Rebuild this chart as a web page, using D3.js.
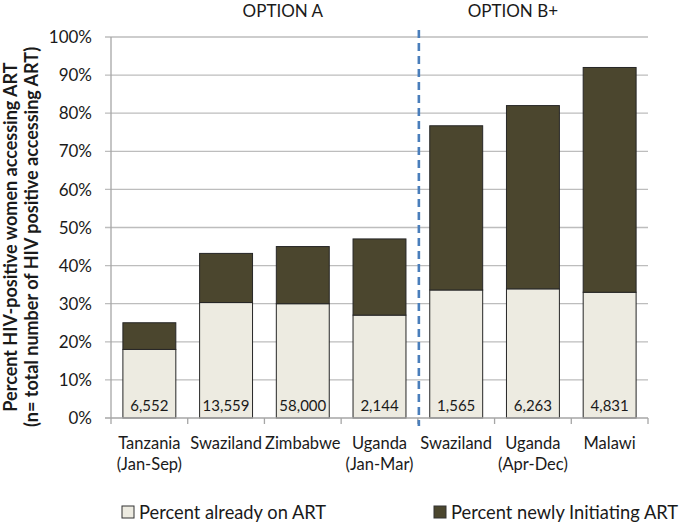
<!DOCTYPE html>
<html><head><meta charset="utf-8">
<script src="https://cdn.jsdelivr.net/npm/d3@7"></script>
<style>body{margin:0;background:#fff}svg{display:block}text{font-family:Lato,"Open Sans",sans-serif;fill:#1a1a1a}</style>
</head><body><svg id="c" width="681" height="522"></svg>
<script>
const categories = [["Tanzania","(Jan-Sep)"],["Swaziland"],["Zimbabwe"],["Uganda","(Jan-Mar)"],["Swaziland"],["Uganda","(Apr-Dec)"],["Malawi"]];
const alreadyOnART = [18, 30.3, 30, 27, 33.6, 33.9, 33];
const totalAccessing = [25, 43.2, 45, 47, 76.7, 82, 92];
const nLabels = ["6,552","13,559","58,000","2,144","1,565","6,263","4,831"];
const yTicks = [0,10,20,30,40,50,60,70,80,90,100];
const groups = [{name:"OPTION A", from:0, to:3},{name:"OPTION B+", from:4, to:6}];
const legendLabels = ["Percent already on ART","Percent newly Initiating ART"];
const colors = ["#edebe1","#4b462e"];

const svg = d3.select("#c");
const L=111, R=648, T=37, B=418;
const idx = categories.map((d,i)=>i);
const x = d3.scaleBand().domain(idx).range([L,R]).paddingInner(0.31).paddingOuter(0.155);
const y = d3.scaleLinear().domain([0,100]).range([B,T]);

// gridlines + y ticks
svg.append("g").selectAll("line").data(yTicks.filter(d=>d>0)).join("line")
  .attr("x1",L-6).attr("x2",R).attr("y1",d=>y(d)).attr("y2",d=>y(d))
  .attr("stroke","#bdbdbd").attr("stroke-width",1.3);
svg.append("g").selectAll("text").data(yTicks).join("text")
  .attr("x",L-19).attr("y",d=>y(d)).attr("dy","0.36em").attr("text-anchor","end")
  .attr("font-size",17).text(d=>d+"%");
svg.append("line").attr("x1",L).attr("x2",L).attr("y1",T).attr("y2",B).attr("stroke","#a6a6a6").attr("stroke-width",1.3);

// stacks
const stackData = idx.map(i=>({i, a:alreadyOnART[i], b:totalAccessing[i]-alreadyOnART[i]}));
const series = d3.stack().keys(["a","b"])(stackData);
svg.append("g").selectAll("g").data(series).join("g").attr("fill",(d,k)=>colors[k])
  .selectAll("rect").data(d=>d).join("rect")
  .attr("x",d=>x(d.data.i)).attr("width",x.bandwidth())
  .attr("y",d=>y(d[1])).attr("height",d=>y(d[0])-y(d[1]))
  .attr("stroke","#262626").attr("stroke-width",1);

// n labels
svg.append("g").selectAll("text").data(nLabels).join("text")
  .attr("x",(d,i)=>x(i)+x.bandwidth()/2).attr("y",406).attr("dy","0.36em")
  .attr("text-anchor","middle").attr("font-size",15).text(d=>d);

// x axis
svg.append("line").attr("x1",L-6).attr("x2",R).attr("y1",B).attr("y2",B).attr("stroke","#a6a6a6").attr("stroke-width",1.3);
const step = x.step();
svg.append("g").selectAll("line").data(d3.range(categories.length+1)).join("line")
  .attr("x1",d=>L+d*step).attr("x2",d=>L+d*step).attr("y1",B).attr("y2",B+6)
  .attr("stroke","#a6a6a6").attr("stroke-width",1.3);
const cl = svg.append("g").selectAll("text").data(categories).join("text")
  .attr("x",(d,i)=>x(i)+x.bandwidth()/2).attr("y",443).attr("text-anchor","middle").attr("font-size",16.5);
cl.selectAll("tspan").data(d=>d).join("tspan")
  .attr("x",function(){return this.parentNode.getAttribute("x");})
  .attr("dy",(d,j)=>j===0?"0.36em":"1.3em").text(d=>d);

// dashed separator
const sepX = L + 4*step;
svg.append("line").attr("x1",sepX+1).attr("x2",sepX+1).attr("y1",30).attr("y2",426)
  .attr("stroke","#4a7ebb").attr("stroke-width",2.6).attr("stroke-dasharray","8,5");

// group titles (placed relative to the separator)
const groupOffset = [-135, 95];
svg.append("g").selectAll("text").data(groups).join("text")
  .attr("x",(d,i)=>sepX+groupOffset[i]).attr("y",17)
  .attr("text-anchor","middle").attr("font-size",17).text(d=>d.name);

// y title
const yt = svg.append("text").attr("transform","translate(11,237) rotate(-90)")
  .attr("text-anchor","middle").attr("font-weight","bold").attr("font-size",18);
yt.append("tspan").attr("x",0).attr("dy","0.36em").text("Percent HIV-positive women accessing ART");
yt.append("tspan").attr("x",0).attr("dy","1.12em").text("(n= total number of HIV positive accessing ART)");

// legend
const legX = [122, 434];
const lg = svg.append("g").selectAll("g").data(legendLabels).join("g")
  .attr("transform",(d,i)=>`translate(${legX[i]},512)`);
lg.append("rect").attr("x",0).attr("y",-6).attr("width",12).attr("height",12)
  .attr("fill",(d,i)=>colors[i]).attr("stroke","#333").attr("stroke-width",1);
lg.append("text").attr("x",17).attr("dy","0.36em").attr("font-size",18.3).text(d=>d);
</script></body></html>
